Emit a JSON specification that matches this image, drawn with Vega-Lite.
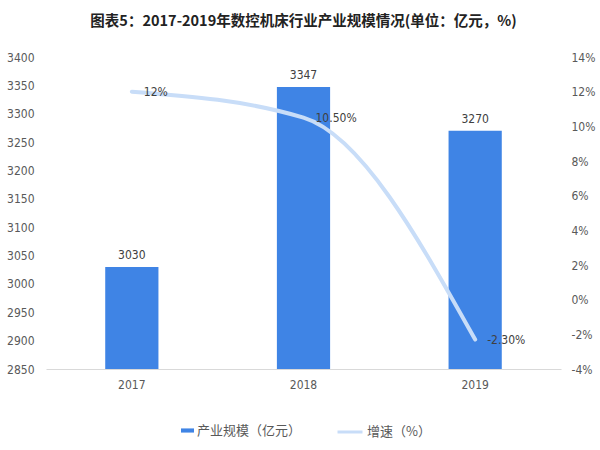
{
  "$schema": "https://vega.github.io/schema/vega-lite/v6.json",
  "width": 515,
  "height": 312,
  "padding": {"left": 6, "top": 13, "right": 6, "bottom": 8},
  "background": "white",
  "title": {
    "text": "图表5：2017-2019年数控机床行业产业规模情况(单位：亿元，%)",
    "font": "Noto Sans CJK SC",
    "fontSize": 14.5,
    "fontWeight": "bold",
    "color": "#222222",
    "anchor": "middle",
    "offset": 22
  },
  "config": {
    "view": {"stroke": null},
    "axis": {"labelFont": "DejaVu Sans Condensed, Liberation Sans, sans-serif", "labelFontSize": 12, "labelColor": "#595959", "grid": false, "ticks": false, "title": null, "labelOverlap": false},
    "legend": {"labelFont": "Noto Sans CJK SC", "labelFontSize": 13, "labelColor": "#595959"}
  },
  "data": {
    "values": [
      {"year": "2017", "scale": 3030, "growth": 12, "growthLabel": "12%"},
      {"year": "2018", "scale": 3347, "growth": 10.5, "growthLabel": "10.50%"},
      {"year": "2019", "scale": 3270, "growth": -2.3, "growthLabel": "-2.30%"}
    ]
  },
  "encoding": {
    "x": {
      "field": "year",
      "type": "ordinal",
      "scale": {"paddingInner": 0.69, "paddingOuter": 0.345},
      "axis": {"labelAngle": 0, "domain": true, "domainColor": "#d9d9d9", "labelPadding": 10}
    }
  },
  "layer": [
    {
      "encoding": {
        "y": {
          "field": "scale",
          "type": "quantitative",
          "scale": {"domain": [2850, 3400], "zero": false, "nice": false},
          "axis": {"values": [2850, 2900, 2950, 3000, 3050, 3100, 3150, 3200, 3250, 3300, 3350, 3400], "format": "d", "domain": false, "labelPadding": 12, "labelOverlap": false, "labelFlush": false}
        }
      },
      "layer": [
        {
          "mark": {"type": "bar", "color": "#3f84e5"},
          "encoding": {
            "y2": {"datum": 2850},
            "fill": {
              "datum": "产业规模（亿元）",
              "scale": {"range": ["#3f84e5"]},
              "legend": {"orient": "none", "legendX": 135, "legendY": 367, "title": null, "symbolType": "M-1,-0.32H1V0.32H-1Z", "symbolSize": 169, "symbolStrokeWidth": 0, "labelOffset": 3}
            }
          }
        },
        {
          "mark": {"type": "text", "dy": -12, "font": "DejaVu Sans Condensed, Liberation Sans, sans-serif", "fontSize": 12, "color": "#404040"},
          "encoding": {
            "text": {"field": "scale", "type": "quantitative", "format": "d"}
          }
        }
      ]
    },
    {
      "encoding": {
        "y": {
          "field": "growth",
          "type": "quantitative",
          "scale": {"domain": [-4, 14], "nice": false},
          "axis": {"orient": "right", "values": [-4, -2, 0, 2, 4, 6, 8, 10, 12, 14], "labelExpr": "datum.value + '%'", "domain": false, "labelPadding": 10, "labelOverlap": false, "labelFlush": false}
        }
      },
      "layer": [
        {
          "mark": {"type": "line", "interpolate": "monotone", "strokeWidth": 4, "color": "#c8ddf8", "strokeCap": "round"},
          "encoding": {
            "stroke": {
              "datum": "增速（%）",
              "scale": {"range": ["#c8ddf8"]},
              "legend": {"orient": "none", "legendX": 290, "legendY": 361, "title": null, "symbolType": "stroke", "symbolSize": 625, "symbolStrokeWidth": 3, "labelOffset": 3}
            }
          }
        },
        {
          "mark": {"type": "text", "align": "left", "dx": 12, "font": "DejaVu Sans Condensed, Liberation Sans, sans-serif", "fontSize": 12, "color": "#404040"},
          "encoding": {
            "text": {"field": "growthLabel"}
          }
        }
      ]
    }
  ],
  "resolve": {"scale": {"y": "independent"}}
}
